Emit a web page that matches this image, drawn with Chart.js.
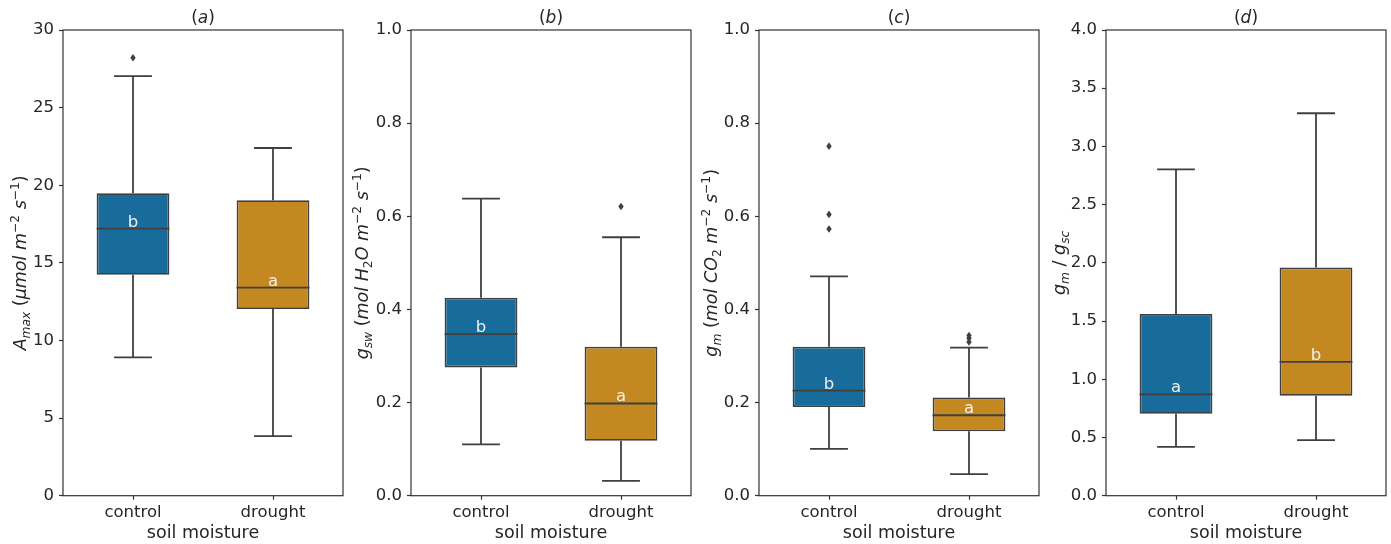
<!DOCTYPE html>
<html>
<head>
<meta charset="utf-8">
<script src="https://cdn.jsdelivr.net/npm/chart.js@4.4.1/dist/chart.umd.min.js"></script>
<style>
  body { margin: 0; background: #fff; width: 1391px; height: 544px; overflow: hidden; position: relative; }
  canvas { position: absolute; top: 0; }
</style>
</head>
<body>
<canvas id="chartA" width="347" height="544" style="left:0px"></canvas>
<canvas id="chartB" width="347" height="544" style="left:348px"></canvas>
<canvas id="chartC" width="347" height="544" style="left:696px"></canvas>
<canvas id="chartD" width="347" height="544" style="left:1043px"></canvas>
<script>
const categories = ['control', 'drought'];

// (a) Amax
const amaxLow = [8.91, 3.84];
const amaxQ1 = [14.23, 12.02];
const amaxMedian = [17.2, 13.4];
const amaxQ3 = [19.48, 19.03];
const amaxHigh = [27.03, 22.4];
const amaxOutliers = [[28.21], []];
const amaxLetters = ['b', 'a'];

// (b) gsw
const gswLow = [0.110, 0.032];
const gswQ1 = [0.2755, 0.118];
const gswMedian = [0.347, 0.198];
const gswQ3 = [0.425, 0.320];
const gswHigh = [0.638, 0.555];
const gswOutliers = [[], [0.621]];
const gswLetters = ['b', 'a'];

// (c) gm
const gmLow = [0.1005, 0.0462];
const gmQ1 = [0.1906, 0.1385];
const gmMedian = [0.2256, 0.1727];
const gmQ3 = [0.320, 0.2107];
const gmHigh = [0.471, 0.318];
const gmOutliers = [[0.7506, 0.604, 0.5726], [0.344, 0.338, 0.330]];
const gmLetters = ['b', 'a'];

// (d) gm / gsc
const ratioLow = [0.42, 0.477];
const ratioQ1 = [0.703, 0.858];
const ratioMedian = [0.870, 1.150];
const ratioQ3 = [1.561, 1.960];
const ratioHigh = [2.803, 3.285];
const ratioOutliers = [[], []];
const ratioLetters = ['a', 'b'];

const boxColors = ['rgb(23,108,156)', 'rgb(195,136,32)'];
const lineColor = '#3f3f3f';
const axisColor = '#333333';
const textColor = '#262626';
const FONT = "'DejaVu Sans', sans-serif";

// draw a row of text pieces with sub/superscripts (mathtext-ish)
function richText(ctx, segs, x, y, rotate, main) {
  const small = main * 0.7;
  const fontOf = s => {
    const it = (s[1] === 'i' || s[1] === 'sub') ? 'italic ' : '';
    const size = (s[1] === 'sub' || s[1] === 'subr' || s[1] === 'sup') ? small : main;
    return it + size + 'px ' + FONT;
  };
  let total = 0;
  segs.forEach(s => { ctx.font = fontOf(s); total += ctx.measureText(s[0]).width; });
  ctx.save();
  ctx.translate(x, y);
  if (rotate) ctx.rotate(-Math.PI / 2);
  ctx.fillStyle = textColor;
  ctx.textBaseline = 'alphabetic';
  ctx.textAlign = 'left';
  let pos = -total / 2;
  segs.forEach(s => {
    ctx.font = fontOf(s);
    let dy = 0;
    if (s[1] === 'sub' || s[1] === 'subr') dy = main * 0.23;
    if (s[1] === 'sup') dy = -main * 0.4;
    ctx.fillText(s[0], pos, dy);
    pos += ctx.measureText(s[0]).width;
  });
  ctx.restore();
}

const boxExtras = {
  id: 'boxExtras',
  afterDatasetsDraw(chart) {
    const p = chart.options.plugins.boxExtras;
    const ctx = chart.ctx, xs = chart.scales.x, ys = chart.scales.y;
    const meta = chart.getDatasetMeta(0);
    const line = (x1, y1, x2, y2) => { ctx.beginPath(); ctx.moveTo(x1, y1); ctx.lineTo(x2, y2); ctx.stroke(); };
    ctx.save();
    ctx.strokeStyle = lineColor;
    ctx.lineWidth = 1.8;
    categories.forEach((c, i) => {
      const cx = xs.getPixelForValue(i);
      const w = meta.data[i].width;
      const cap = w * 0.26;
      const yLow = ys.getPixelForValue(p.low[i]);
      const yHigh = ys.getPixelForValue(p.high[i]);
      const yQ1 = ys.getPixelForValue(p.q1[i]);
      const yQ3 = ys.getPixelForValue(p.q3[i]);
      const yMed = ys.getPixelForValue(p.median[i]);
      line(cx, yQ3, cx, yHigh);
      line(cx, yQ1, cx, yLow);
      line(cx - cap, yHigh, cx + cap, yHigh);
      line(cx - cap, yLow, cx + cap, yLow);
      line(cx - w / 2, yMed, cx + w / 2, yMed);
      // outliers, thin diamonds
      ctx.fillStyle = lineColor;
      p.outliers[i].forEach(v => {
        const oy = ys.getPixelForValue(v);
        ctx.beginPath();
        ctx.moveTo(cx, oy - 3.8);
        ctx.lineTo(cx + 2.7, oy);
        ctx.lineTo(cx, oy + 3.8);
        ctx.lineTo(cx - 2.7, oy);
        ctx.closePath();
        ctx.fill();
      });
      // significance letters
      ctx.fillStyle = '#f0f0f0';
      ctx.font = '16.5px ' + FONT;
      ctx.textAlign = 'center';
      ctx.textBaseline = 'alphabetic';
      ctx.fillText(p.letters[i], cx, yMed - 2);
    });
    ctx.restore();
  },
  afterDraw(chart) {
    const p = chart.options.plugins.boxExtras;
    const a = chart.chartArea, ctx = chart.ctx;
    ctx.save();
    ctx.strokeStyle = axisColor;
    ctx.lineWidth = 1.2;
    ctx.strokeRect(a.left, a.top, a.right - a.left, a.bottom - a.top);
    ctx.restore();
    const mid = (a.left + a.right) / 2;
    richText(ctx, [['(', 'r'], [p.panel, 'i'], [')', 'r']], mid, 23, false, 17);
    ctx.save();
    ctx.fillStyle = textColor;
    ctx.font = '17.5px ' + FONT;
    ctx.textAlign = 'center';
    ctx.fillText('soil moisture', mid, 537.5);
    ctx.restore();
    richText(ctx, p.ylabel, a.left - p.labelGap, (a.top + a.bottom) / 2, true, 17.5);
  }
};

function makeBoxChart(id, s) {
  const ctx = document.getElementById(id);
  const dataset = {
    labels: categories,
    datasets: [{
      data: categories.map((c, i) => [s.q1[i], s.q3[i]]),
      backgroundColor: boxColors,
      borderColor: lineColor,
      borderWidth: 1.8,
      borderSkipped: false,
      barPercentage: 0.52,
      categoryPercentage: 1.0
    }]
  };
  const config = {
    type: 'bar',
    data: dataset,
    options: {
      responsive: false,
      animation: false,
      layout: { padding: { top: 30, right: 4, left: 0, bottom: 0 } },
      plugins: {
        legend: { display: false },
        tooltip: { enabled: false },
        boxExtras: s
      },
      scales: {
        x: {
          afterFit: sc => { sc.height = 48.3; },
          border: { display: false },
          grid: { display: true, drawOnChartArea: false, offset: false, tickLength: 4, tickColor: axisColor, tickWidth: 1.2 },
          ticks: { color: textColor, font: { family: FONT, size: 16.5 }, padding: 3 }
        },
        y: {
          min: 0,
          max: s.max,
          afterFit: sc => { sc.width = 63; },
          border: { display: false },
          grid: { display: true, drawOnChartArea: false, tickLength: 4, tickColor: axisColor, tickWidth: 1.2 },
          ticks: {
            stepSize: s.step,
            color: textColor,
            font: { family: FONT, size: 16.5 },
            padding: 5,
            callback: v => s.decimals ? v.toFixed(s.decimals) : v
          }
        }
      }
    },
    plugins: [boxExtras]
  };
  return new Chart(ctx, config);
}

makeBoxChart('chartA', {
  panel: 'a', max: 30, step: 5, decimals: 0, labelGap: 37,
  low: amaxLow, q1: amaxQ1, median: amaxMedian, q3: amaxQ3, high: amaxHigh,
  outliers: amaxOutliers, letters: amaxLetters,
  ylabel: [['A', 'i'], ['max', 'sub'], [' (', 'r'], ['\u03bcmol', 'i'], [' m', 'i'], ['\u22122', 'sup'], [' s', 'i'], ['\u22121', 'sup'], [')', 'r']]
});
makeBoxChart('chartB', {
  panel: 'b', max: 1, step: 0.2, decimals: 1, labelGap: 43,
  low: gswLow, q1: gswQ1, median: gswMedian, q3: gswQ3, high: gswHigh,
  outliers: gswOutliers, letters: gswLetters,
  ylabel: [['g', 'i'], ['sw', 'sub'], [' (', 'r'], ['mol', 'i'], [' H', 'i'], ['2', 'subr'], ['O', 'i'], [' m', 'i'], ['\u22122', 'sup'], [' s', 'i'], ['\u22121', 'sup'], [')', 'r']]
});
makeBoxChart('chartC', {
  panel: 'c', max: 1, step: 0.2, decimals: 1, labelGap: 42,
  low: gmLow, q1: gmQ1, median: gmMedian, q3: gmQ3, high: gmHigh,
  outliers: gmOutliers, letters: gmLetters,
  ylabel: [['g', 'i'], ['m', 'sub'], [' (', 'r'], ['mol', 'i'], [' CO', 'i'], ['2', 'subr'], [' m', 'i'], ['\u22122', 'sup'], [' s', 'i'], ['\u22121', 'sup'], [')', 'r']]
});
makeBoxChart('chartD', {
  panel: 'd', max: 4, step: 0.5, decimals: 1, labelGap: 41,
  low: ratioLow, q1: ratioQ1, median: ratioMedian, q3: ratioQ3, high: ratioHigh,
  outliers: ratioOutliers, letters: ratioLetters,
  ylabel: [['g', 'i'], ['m', 'sub'], [' / ', 'r'], ['g', 'i'], ['sc', 'sub']]
});
</script>
</body>
</html>
